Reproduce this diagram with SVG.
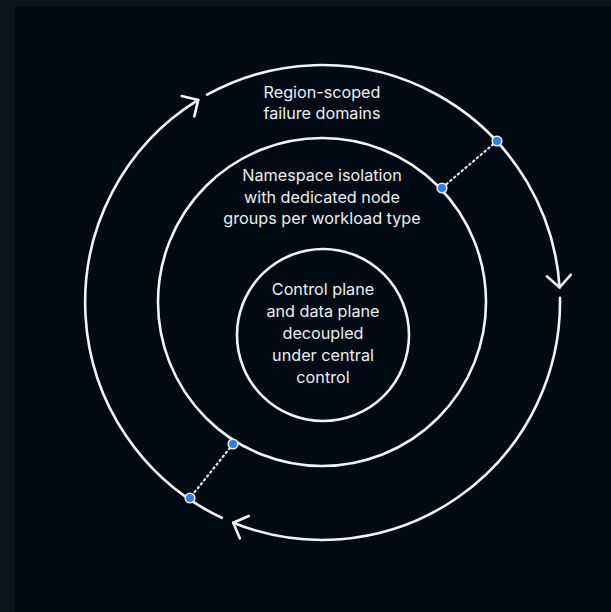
<svg xmlns="http://www.w3.org/2000/svg" width="611" height="612" viewBox="0 0 611 612">
  <style>
    .ring { fill: none; stroke: #f2f3f5; stroke-width: 2.6; }
    .flow { fill: none; stroke: #f2f3f5; stroke-width: 2.6; stroke-linecap: round; }
    .link { stroke: #e6e8ec; stroke-width: 2.2; stroke-dasharray: 1.5 3.5; stroke-linecap: round; }
    .dot { fill: #2f7ee8; stroke: #e9eef5; stroke-width: 1.6; }
    .label { font-family: Inter, "Noto Sans", "Liberation Sans", sans-serif; font-size: 16.2px; fill: #eceef1; text-anchor: middle; }
  </style>
  <defs>
    <marker id="chevron" markerUnits="userSpaceOnUse" markerWidth="30" markerHeight="30" viewBox="-15 -15 30 30" refX="0" refY="0" orient="auto">
      <path d="M -12 -12 L 0 0 L -12 12" fill="none" stroke="#f2f3f5" stroke-width="2.6" stroke-linecap="round" stroke-linejoin="round"/>
    </marker>
  </defs>

  <!-- backdrop -->
  <rect x="0" y="0" width="611" height="612" fill="#0c141b"/>
  <rect x="15" y="6" width="596" height="606" fill="#020a13"/>

  <!-- outer ring drawn as three clockwise arcs -->
  <g id="connectors">
    <path class="flow" marker-end="url(#chevron)" d="M 207.1 94.7 A 238 238 0 0 1 559.6 287.5"/>
    <path class="flow" marker-end="url(#chevron)" d="M 560 297.9 A 238 238 0 0 1 233.2 522.7"/>
    <path class="flow" marker-end="url(#chevron)" d="M 221.8 517.8 A 238 238 0 0 1 198.2 99.9"/>
    <line class="link" x1="497" y1="141" x2="442" y2="188"/>
    <line class="link" x1="233" y1="444" x2="190" y2="498"/>
  </g>

  <g id="outer">
    <text class="label" x="322" y="98">Region-scoped</text>
    <text class="label" x="322" y="119">failure domains</text>
  </g>

  <g id="middle">
    <circle class="ring" cx="322" cy="302" r="164"/>
    <text class="label" x="322" y="181">Namespace isolation</text>
    <text class="label" x="322" y="203">with dedicated node</text>
    <text class="label" x="322" y="224">groups per workload type</text>
  </g>

  <g id="inner">
    <circle class="ring" cx="323" cy="335" r="86"/>
    <text class="label" x="323" y="295">Control plane</text>
    <text class="label" x="323" y="317">and data plane</text>
    <text class="label" x="323" y="339">decoupled</text>
    <text class="label" x="323" y="361">under central</text>
    <text class="label" x="323" y="383">control</text>
  </g>

  <g id="markers">
    <circle class="dot" cx="497" cy="141" r="4.8"/>
    <circle class="dot" cx="442" cy="188" r="4.8"/>
    <circle class="dot" cx="233" cy="444" r="4.8"/>
    <circle class="dot" cx="190" cy="498" r="4.8"/>
  </g>
</svg>
